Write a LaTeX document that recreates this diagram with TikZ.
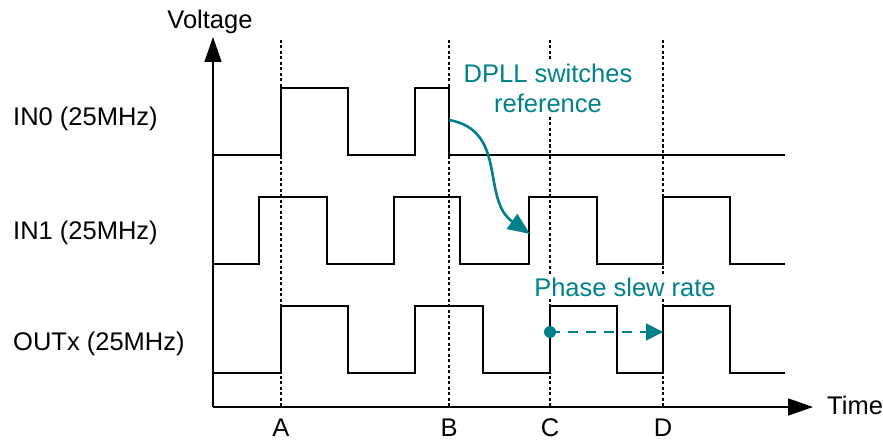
\documentclass[tikz,border=0pt]{standalone}
\usepackage{fontspec}
\setmainfont{Liberation Sans}
\usepackage{tikz}
\usetikzlibrary{positioning, arrows.meta, calc}
\definecolor{dpllteal}{RGB}{0,128,138}

\begin{document}
\begin{tikzpicture}[x=1pt, y=-1pt]
	\tikzset{
		axis/.style={line width=1.6pt, -{Triangle[length=25pt, width=17pt]}},
		wave/.style={line width=1.8pt, line join=miter},
		marker/.style={line width=1.3pt, dash pattern=on 3pt off 2.5pt},
		label/.style={font=\fontsize{25.5}{30}\selectfont, inner sep=0pt},
		note/.style={label, text=dpllteal, fill=white, inner sep=3pt},
		curved/.style={dpllteal, line width=2.6pt, -{Triangle[length=22pt, width=18pt]}},
		slew/.style={dpllteal, line width=1.8pt, dash pattern=on 10pt off 8pt, -{Triangle[length=17pt, width=17pt]}}
	}
	\useasboundingbox (0,0) rectangle (883,441);
	\coordinate (origin) at (213,407);
	\coordinate (ytop) at (213,37);
	\coordinate (xend) at (813,407);
	\foreach \x/\l in {281/A, 449/B, 550/C, 663/D} {
		\draw[marker] (\x,40) -- (\x,407);
		\node[label, anchor=base] (t\l) at (\x,436) {\l};
	}
	\draw[axis] (origin) -- (ytop);
	\draw[axis] (origin) -- (xend);
	\node[label, anchor=base] (voltage) at (210,29) {Voltage};
	\node[label, anchor=base west] (time) at (827,414) {Time};
	\node[label, anchor=base west] (in0) at (13,125) {IN0 (25MHz)};
	\node[label, anchor=base west] (in1) at (13,239) {IN1 (25MHz)};
	\node[label, anchor=base west] (outx) at (13,350) {OUTx (25MHz)};
	\draw[wave] (213,155) -| (281,88) -| (348,155) -| (415,88) -| (449,155) -- (785,155);
	\draw[wave] (213,264) -| (259,197) -| (327,264) -| (394,197) -| (460,264) -| (529,197)
		-| (597,264) -| (663,197) -| (730,264) -- (785,264);
	\draw[wave] (213,373) -| (281,306) -| (348,373) -| (415,306) -| (483,373) -| (550,306)
		-| (617,373) -| (663,306) -| (730,373) -- (785,373);
	\node[note, anchor=base, align=center] (switch) at (548,113) {DPLL switches\\reference};
	\node[note, anchor=base] (rate) at (625,296) {Phase slew rate};
	\coordinate (swfrom) at (449,120);
	\coordinate (swto) at (530,234);
	\draw[curved] (swfrom) to[out=-10, in=145, looseness=1.1] (swto);
	\coordinate (slewfrom) at (550,332);
	\coordinate (slewto) at (663,332);
	\fill[dpllteal] (slewfrom) circle (6pt);
	\draw[slew] (slewfrom) -- (slewto);
\end{tikzpicture}
\end{document}
